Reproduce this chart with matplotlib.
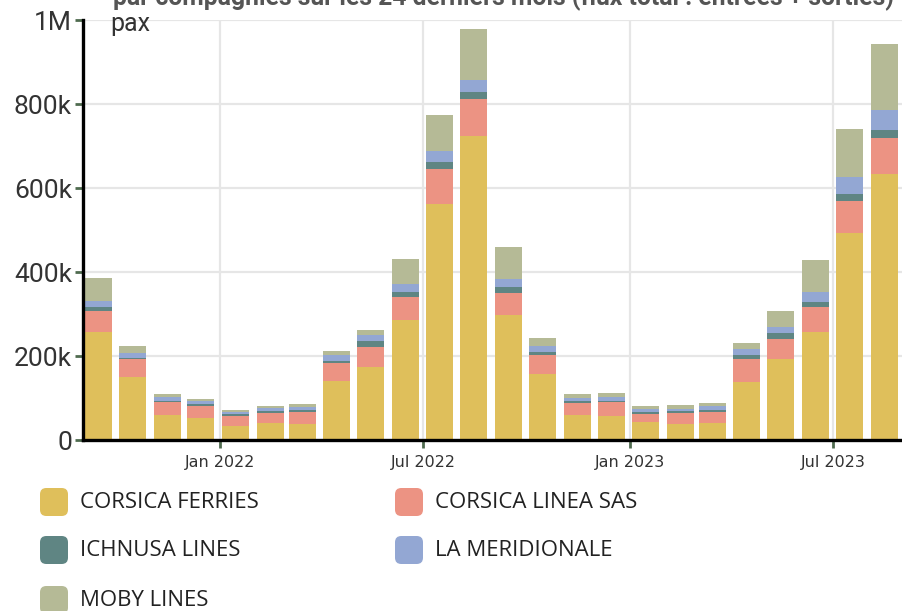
#!/usr/bin/env python
#==============================================================================#
#       Stacked monthly passenger flows by ferry company (24 months)
#==============================================================================#
import datetime as dt
import numpy as np
import matplotlib
matplotlib.use('Agg')
import matplotlib.pyplot as plt
import matplotlib.dates as mdates
from matplotlib.patches import FancyBboxPatch
from matplotlib.ticker import FuncFormatter, MultipleLocator

#==============================================================================#
#                               Data (k pax)
#==============================================================================#
months = ['2021-09', '2021-10', '2021-11', '2021-12', '2022-01', '2022-02',
          '2022-03', '2022-04', '2022-05', '2022-06', '2022-07', '2022-08',
          '2022-09', '2022-10', '2022-11', '2022-12', '2023-01', '2023-02',
          '2023-03', '2023-04', '2023-05', '2023-06', '2023-07', '2023-08']

corsica_ferries = [258, 151, 59, 52, 34, 40, 39, 140, 175, 286, 563, 724,
                   298, 157, 60, 58, 42, 38, 40, 139, 194, 258, 494, 633]
corsica_linea = [49, 41, 31, 30, 24, 25, 28, 43, 47, 55, 82, 87,
                 53, 45, 27, 32, 21, 26, 26, 53, 46, 58, 76, 87]
ichnusa = [9, 4, 4, 4, 4, 4, 4, 5, 14, 11, 16, 18,
           13, 8, 5, 3, 4, 4, 5, 10, 14, 13, 15, 17]
meridionale = [16, 10, 8, 6, 5, 7, 7, 15, 13, 19, 27, 28,
               20, 15, 8, 9, 6, 5, 10, 14, 16, 23, 42, 49]
moby = [53, 19, 8, 5, 5, 6, 7, 8, 14, 59, 87, 122,
        75, 19, 10, 9, 9, 11, 6, 14, 36, 77, 113, 156]

series_names = ['CORSICA FERRIES', 'CORSICA LINEA SAS', 'ICHNUSA LINES',
                'LA MERIDIONALE', 'MOBY LINES']
series_values = [corsica_ferries, corsica_linea, ichnusa, meridionale, moby]
series_colors = ['#dfbf5b', '#ec9383', '#5f8583', '#93a7d3', '#b5ba96']

title = 'par compagnies sur les 24 derniers mois (flux total : entrées + sorties)'

#==============================================================================#
#                               Figure
#==============================================================================#
fig = plt.figure(figsize=(9.02, 6.11), dpi=100)
ax = fig.add_axes([83/902, 1 - 440/611, 1 - 83/902, 420/611])

centers = [dt.date(int(m[:4]), int(m[5:]), 15) for m in months]
x = mdates.date2num(centers)

bottom = np.zeros(len(months))
for name, vals, col in zip(series_names, series_values, series_colors):
    v = np.array(vals) * 1000.0
    ax.bar(x, v, width=24, bottom=bottom, color=col, label=name, zorder=3)
    bottom += v

ax.set_xlim(mdates.date2num(dt.date(2021, 9, 1)), mdates.date2num(dt.date(2023, 8, 31)))
ax.set_ylim(0, 1e6)

ax.xaxis.set_major_locator(mdates.MonthLocator(bymonth=[1, 7]))
ax.xaxis.set_major_formatter(mdates.DateFormatter('%b %Y'))
ax.yaxis.set_major_locator(MultipleLocator(200000))
ax.yaxis.set_major_formatter(FuncFormatter(
    lambda v, p: '0' if v == 0 else ('1M' if v >= 1e6 else '%dk' % (v / 1000))))

ax.grid(True, color='#e6e6e6', linewidth=1.6, zorder=0)
for s in ['top', 'right']:
    ax.spines[s].set_visible(False)
for s in ['left', 'bottom']:
    ax.spines[s].set_linewidth(2.4)
    ax.spines[s].set_color('black')
    ax.spines[s].set_zorder(4)

ax.tick_params(axis='y', length=6, width=2, color='#4f6b4f', pad=2,
               labelsize=19, labelcolor='#333333')
ax.tick_params(axis='x', length=6, width=2, color='#4f6b4f', pad=5,
               labelsize=11.5, labelcolor='#333333')
for lab in ax.get_yticklabels():
    lab.set_fontfamily('Roboto')
for lab in ax.get_xticklabels():
    lab.set_fontfamily('DejaVu Sans')

fig.text(110/902, 1 - 31/611, 'pax', fontsize=18, family='Roboto',
         color='#333333', ha='left', va='baseline')
fig.text(504/902, 1 - 5/611, title, fontsize=17.8, family='Roboto',
         fontweight='bold', color='#555555', ha='center', va='baseline')

#==============================================================================#
#                               Legend
#==============================================================================#
W, H = 902.0, 611.0
positions = [(40, 502), (395, 502), (40, 550), (395, 550), (40, 600)]
for (px, py), name, col in zip(positions, series_names, series_colors):
    box = FancyBboxPatch((px / W, (H - py - 14) / H), 28 / W, 28 / H,
                         boxstyle='round,pad=0,rounding_size=0.007',
                         transform=fig.transFigure, facecolor=col,
                         edgecolor='none', mutation_aspect=W / H)
    fig.patches.append(box)
    fig.text((px + 40) / W, (H - py) / H, name, fontsize=16,
             family='Open Sans', color='#222222', ha='left', va='center')

plt.savefig('out.png', dpi=100)
